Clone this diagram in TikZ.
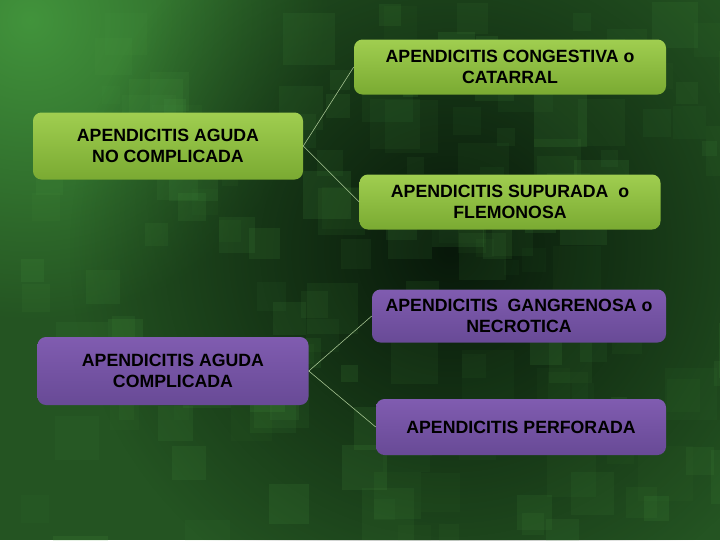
\documentclass[tikz,border=0pt]{standalone}
\usepackage{fontspec}
\setmainfont{Liberation Sans}
\usetikzlibrary{positioning,shadings,fadings}

\definecolor{fondoA}{RGB}{8,24,10}
\definecolor{fondoB}{RGB}{36,84,34}
\definecolor{fondoC}{RGB}{66,148,60}
\definecolor{cubo}{RGB}{80,160,70}
\definecolor{verdeA}{RGB}{160,206,80}
\definecolor{verdeB}{RGB}{122,170,50}
\definecolor{moradoA}{RGB}{128,92,176}
\definecolor{moradoB}{RGB}{104,74,150}
\definecolor{linea}{RGB}{170,200,150}

\tikzfading[name=desvanece, inner color=transparent!0, outer color=transparent!100]

\tikzset{
  caja/.style={rounded corners=6pt, align=center, text=black,
    font=\bfseries\fontsize{12.6}{15}\selectfont},
  cajaverde/.style={caja, top color=verdeA, bottom color=verdeB},
  cajamorada/.style={caja, top color=moradoA, bottom color=moradoB},
  rama/.style={draw=linea, line width=0.4pt}
}

\begin{document}
\begin{tikzpicture}[x=0.025cm, y=-0.025cm]
    \useasboundingbox (0,0) rectangle (720,540);

    % Fondo
    \begin{scope}
        \clip (0,0) rectangle (720,540);
        \fill[fondoB] (0,0) rectangle (720,540);
        \fill[fondoC, path fading=desvanece] (30,20) circle (300);
        \fill[fondoA, path fading=desvanece] (450,250) circle (380);
        \pgfmathsetseed{11}
        \foreach \i in {1,...,160}{
            \pgfmathsetmacro\xx{random(0,720)}
            \pgfmathsetmacro\yy{random(0,540)}
            \pgfmathsetmacro\ss{random(15,55)}
            \pgfmathsetmacro\oo{0.04+0.1*rnd}
            \fill[cubo, opacity=\oo] (\xx,\yy) rectangle ++(\ss,\ss);
        }
    \end{scope}

    % Apendicitis aguda no complicada
    \node[cajaverde, minimum width=270*0.025cm, minimum height=67*0.025cm]
        (nocomp) at (168,146) {APENDICITIS AGUDA\\NO COMPLICADA};
    \node[cajaverde, minimum width=312*0.025cm, minimum height=55*0.025cm]
        (congest) at (510,67) {APENDICITIS CONGESTIVA o\\CATARRAL};
    \node[cajaverde, minimum width=301*0.025cm, minimum height=55*0.025cm]
        (supur) at (510,202) {APENDICITIS SUPURADA\ \ o\\FLEMONOSA};

    % Apendicitis aguda complicada
    \node[cajamorada, minimum width=271*0.025cm, minimum height=68*0.025cm]
        (comp) at (173,371) {APENDICITIS AGUDA\\COMPLICADA};
    \node[cajamorada, minimum width=294*0.025cm, minimum height=53*0.025cm]
        (gangr) at (519,316) {APENDICITIS\ \ GANGRENOSA o\\NECROTICA};
    \node[cajamorada, minimum width=290*0.025cm, minimum height=56*0.025cm]
        (perfor) at (521,427) {APENDICITIS PERFORADA};

    % Ramas
    \draw[rama] (nocomp.east) -- (congest.west);
    \draw[rama] (nocomp.east) -- (supur.west);
    \draw[rama] (comp.east) -- (gangr.west);
    \draw[rama] (comp.east) -- (perfor.west);
\end{tikzpicture}
\end{document}
